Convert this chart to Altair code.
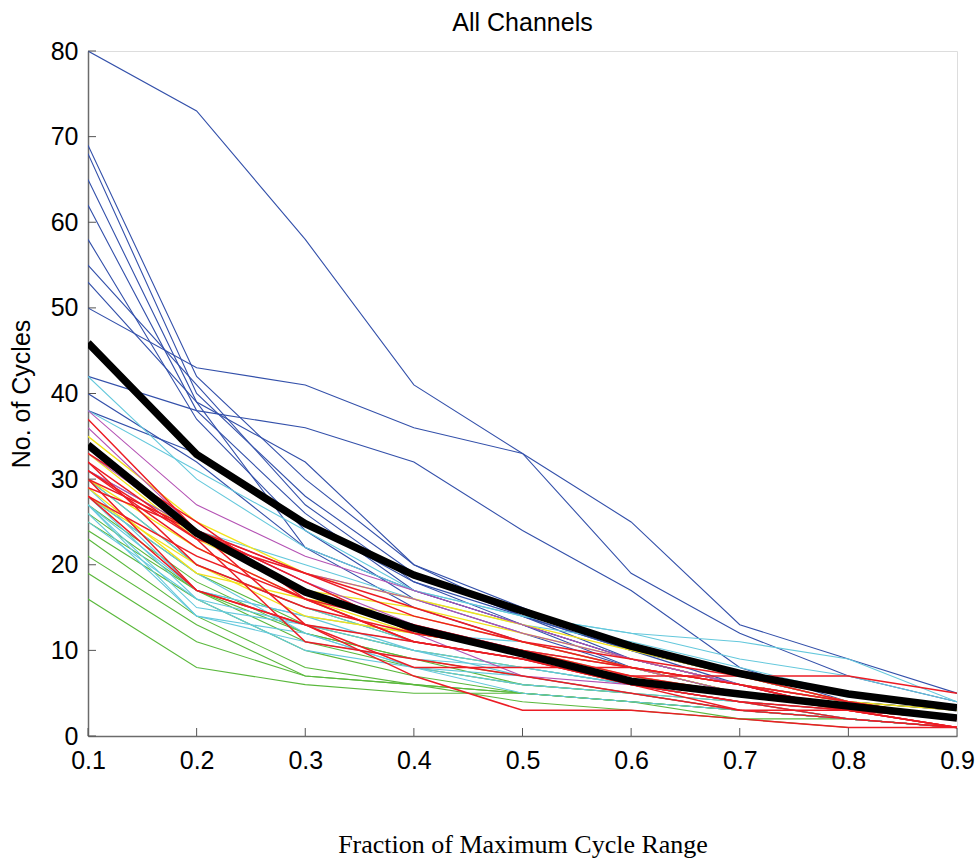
import altair as alt
import pandas as pd

# ---------------- data ----------------
X = [0.1, 0.2, 0.3, 0.4, 0.5, 0.6, 0.7, 0.8, 0.9]

BLUE = [
    [80, 73, 58, 41, 33, 25, 13, 9, 5],
    [50, 43, 41, 36, 33, 19, 12, 7, 4],
    [42, 38, 36, 32, 24, 17, 8, 4, 2],
    [40, 32, 22, 17, 13, 9, 6, 3, 2],
    [69, 42, 30, 20, 15, 10, 6, 4, 3],
    [68, 40, 28, 19, 14, 10, 7, 4, 3],
    [65, 39, 32, 20, 14, 9, 6, 4, 2],
    [62, 38, 26, 17, 13, 9, 6, 3, 2],
    [58, 37, 24, 16, 12, 8, 5, 3, 2],
    [55, 41, 27, 18, 13, 8, 5, 3, 2],
    [53, 39, 22, 15, 11, 8, 5, 3, 2],
    [38, 33, 25, 18, 14, 10, 7, 4, 3],
]

GREEN = [
    [16, 8, 6, 5, 5, 4, 3, 2, 1],
    [19, 11, 7, 6, 5, 4, 3, 2, 1],
    [21, 13, 7, 6, 5, 4, 2, 2, 1],
    [23, 14, 8, 6, 4, 3, 2, 1, 1],
    [25, 17, 11, 8, 6, 5, 3, 2, 1],
    [26, 17, 12, 9, 7, 5, 4, 2, 1],
    [28, 19, 13, 10, 8, 6, 4, 3, 2],
    [30, 20, 15, 11, 9, 6, 4, 3, 2],
    [27, 18, 12, 9, 6, 5, 3, 2, 1],
    [24, 16, 10, 7, 5, 4, 3, 2, 1],
]

CYAN = [
    [42, 30, 22, 17, 14, 12, 11, 9, 4],
    [38, 31, 24, 17, 14, 12, 9, 7, 4],
    [29, 17, 14, 12, 11, 8, 6, 4, 2],
    [28, 16, 13, 11, 9, 7, 5, 3, 2],
    [27, 15, 13, 10, 8, 6, 4, 3, 2],
    [27, 14, 11, 9, 8, 6, 4, 2, 1],
    [26, 14, 12, 8, 6, 5, 3, 2, 1],
    [25, 16, 10, 8, 7, 5, 3, 2, 1],
    [28, 19, 12, 8, 5, 4, 3, 2, 1],
    [30, 20, 15, 11, 9, 7, 5, 3, 2],
    [27, 17, 14, 10, 7, 5, 4, 2, 1],
    [31, 24, 20, 16, 13, 11, 8, 5, 3],
]

YELLOW = [
    [35, 25, 19, 16, 13, 10, 7, 4, 2],
    [33, 23, 17, 15, 12, 9, 6, 4, 2],
    [30, 22, 16, 14, 11, 8, 5, 3, 2],
    [29, 19, 16, 12, 10, 8, 6, 4, 3],
    [28, 20, 14, 12, 10, 7, 5, 3, 2],
]

MAGENTA = [
    [38, 27, 21, 17, 13, 9, 6, 4, 2],
    [36, 24, 19, 16, 12, 9, 6, 3, 2],
    [33, 24, 18, 13, 10, 8, 5, 3, 2],
    [31, 24, 18, 12, 7, 6, 4, 3, 2],
]

RED = [
    [37, 24, 13, 11, 9, 7, 7, 7, 5],
    [32, 20, 15, 12, 10, 8, 6, 4, 2],
    [31, 23, 19, 15, 11, 8, 6, 3, 2],
    [30, 17, 13, 8, 8, 8, 6, 3, 1],
    [29, 24, 19, 14, 11, 9, 7, 4, 2],
    [28, 21, 16, 11, 9, 6, 4, 3, 1],
    [32, 23, 11, 9, 7, 5, 3, 2, 1],
    [30, 24, 18, 12, 10, 7, 5, 3, 1],
    [28, 17, 13, 7, 3, 3, 2, 1, 1],
    [31, 22, 16, 13, 10, 6, 4, 2, 1],
    [33, 25, 16, 11, 9, 6, 3, 3, 1],
]

BLACK = [
    [45.9, 32.9, 24.8, 18.8, 14.6, 10.5, 7.3, 4.9, 3.3],
    [34.0, 23.7, 16.8, 12.6, 9.6, 6.4, 4.9, 3.5, 2.1],
]

Y_TICKS = [0, 10, 20, 30, 40, 50, 60, 70, 80]

# ---------------- chart ----------------
W, H = 869, 685

xs = alt.Scale(domain=[0.1, 0.9], nice=False, zero=False)
ys = alt.Scale(domain=[0, 80], nice=False, zero=False)

x_axis = alt.Axis(
    values=X, format=".1f", grid=False, ticks=False,
    domainColor="#6b6b6b", domainWidth=1.5,
    labelFont="Liberation Sans", labelFontSize=25, labelColor="black",
    labelPadding=12, labelFlush=False, labelOverlap=False,
    title="Fraction of Maximum Cycle Range", titleFont="Liberation Serif",
    titleFontSize=26, titleFontWeight="normal", titleColor="black",
    titlePadding=58,
)
y_axis = alt.Axis(
    values=Y_TICKS, grid=False, ticks=False,
    domainColor="#6b6b6b", domainWidth=1.5,
    labelFont="Liberation Sans", labelFontSize=25, labelColor="black",
    labelPadding=10, labelFlush=False, labelOverlap=False,
    title="No. of Cycles", titleFont="Liberation Sans",
    titleFontSize=25, titleFontWeight="normal", titleColor="black",
    titlePadding=16,
)


def frame(group, name):
    rows = []
    for i, s in enumerate(group):
        for xv, yv in zip(X, s):
            rows.append({"x": xv, "y": yv, "id": f"{name}{i}"})
    return pd.DataFrame(rows)


def lines(group, name, color, width):
    return alt.Chart(frame(group, name)).mark_line(
        color=color, strokeWidth=width, clip=True
    ).encode(
        x=alt.X("x:Q", scale=xs, axis=x_axis),
        y=alt.Y("y:Q", scale=ys, axis=y_axis),
        detail="id:N",
    )


xticks = alt.Chart(pd.DataFrame({"x": X})).mark_rule(
    color="#555555", strokeWidth=1
).encode(
    x=alt.X("x:Q", scale=xs, axis=x_axis),
    y=alt.value(H),
    y2=alt.value(H - 8),
)

yticks = alt.Chart(pd.DataFrame({"y": Y_TICKS})).mark_rule(
    color="#555555", strokeWidth=1
).encode(
    y=alt.Y("y:Q", scale=ys, axis=y_axis),
    x=alt.value(0),
    x2=alt.value(8),
)

chart = alt.layer(
    lines(BLUE, "b", "#3350aa", 1.1),
    lines(GREEN, "g", "#5ab83c", 1.1),
    lines(CYAN, "c", "#64c8dc", 1.1),
    lines(YELLOW, "yl", "#f2e21a", 1.3),
    lines(MAGENTA, "m", "#b452b4", 1.1),
    lines(RED, "r", "#ec1c24", 1.5),
    lines(BLACK, "k", "#000000", 7.5),
    xticks,
    yticks,
).properties(
    width=W,
    height=H,
    title=alt.TitleParams(
        "All Channels", font="Liberation Sans", fontSize=25,
        fontWeight="normal", color="black", anchor="middle", offset=3,
    ),
    autosize=alt.AutoSizeParams(type="none"),
    padding={"left": 88, "top": 51, "right": 18, "bottom": 122},
).configure_view(stroke=None).configure(background="white")

chart.save("out.html", embed_options={"renderer": "svg", "actions": False})
